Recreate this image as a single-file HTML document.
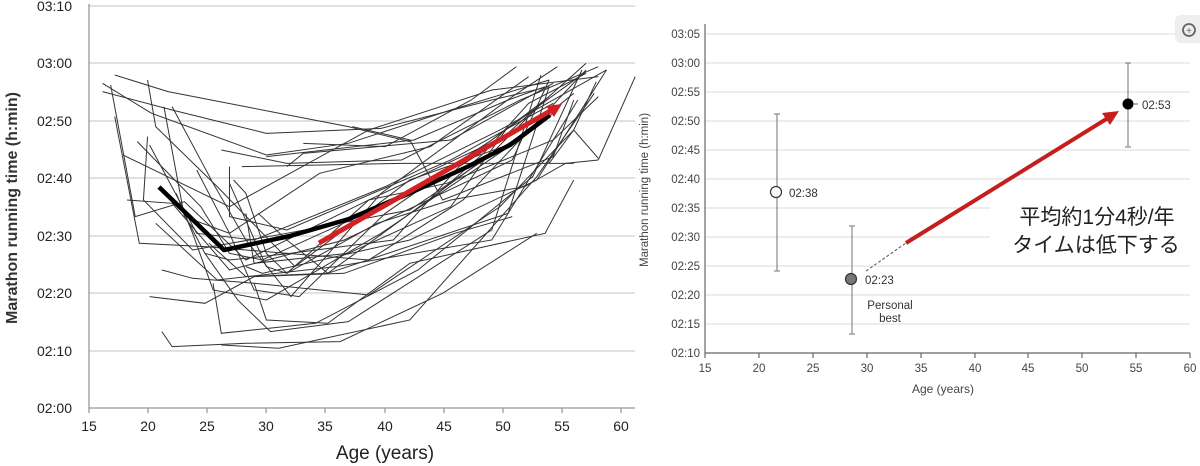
<!DOCTYPE html>
<html><head><meta charset="utf-8"><style>
html,body{margin:0;padding:0;background:#fff;width:1200px;height:466px;overflow:hidden}
svg{display:block}
.t{font-family:"Liberation Sans",Arial,sans-serif}
</style></head><body>
<svg width="1200" height="466" viewBox="0 0 1200 466" xmlns="http://www.w3.org/2000/svg">
<!-- LEFT CHART -->
<g stroke="#cfcfcf" stroke-width="1.3">
<line x1="89" y1="6" x2="635" y2="6"/><line x1="89" y1="63" x2="635" y2="63"/><line x1="89" y1="121" x2="635" y2="121"/>
<line x1="89" y1="178" x2="635" y2="178"/><line x1="89" y1="236" x2="635" y2="236"/><line x1="89" y1="293" x2="635" y2="293"/>
<line x1="89" y1="351" x2="635" y2="351"/>
</g>
<g stroke="#999" stroke-width="1.3">
<line x1="89" y1="4" x2="89" y2="408"/><line x1="89" y1="408" x2="635" y2="408"/>
<line x1="89" y1="408" x2="89" y2="413"/><line x1="148" y1="408" x2="148" y2="413"/><line x1="207" y1="408" x2="207" y2="413"/>
<line x1="266" y1="408" x2="266" y2="413"/><line x1="325" y1="408" x2="325" y2="413"/><line x1="385" y1="408" x2="385" y2="413"/>
<line x1="444" y1="408" x2="444" y2="413"/><line x1="503" y1="408" x2="503" y2="413"/><line x1="562" y1="408" x2="562" y2="413"/>
<line x1="621" y1="408" x2="621" y2="413"/>
</g>
<g class="t" font-size="14" fill="#222" text-anchor="end">
<text x="72" y="11">03:10</text><text x="72" y="68">03:00</text><text x="72" y="126">02:50</text><text x="72" y="183">02:40</text>
<text x="72" y="241">02:30</text><text x="72" y="298">02:20</text><text x="72" y="356">02:10</text><text x="72" y="413">02:00</text>
</g>
<g class="t" font-size="14" fill="#222" text-anchor="middle">
<text x="89" y="431">15</text><text x="148" y="431">20</text><text x="207" y="431">25</text><text x="266" y="431">30</text>
<text x="325" y="431">35</text><text x="385" y="431">40</text><text x="444" y="431">45</text><text x="503" y="431">50</text>
<text x="562" y="431">55</text><text x="621" y="431">60</text>
</g>
<text class="t" x="385" y="459" font-size="19" fill="#222" text-anchor="middle">Age (years)</text>
<text class="t" transform="translate(17,208) rotate(-90)" font-size="16" font-weight="bold" fill="#333" text-anchor="middle">Marathon running time (h:min)</text>
<g transform="scale(0.4098,0.3333)" fill="none" stroke="#333" stroke-width="1" vector-effect="non-scaling-stroke">
<g vector-effect="non-scaling-stroke">
<polyline vector-effect="non-scaling-stroke" points="280,225 410,275 850,380 1000,425"/>
<polyline vector-effect="non-scaling-stroke" points="250,250 370,340 650,465 850,430 1100,330 1340,240"/>
<polyline vector-effect="non-scaling-stroke" points="250,275 420,330 650,400 930,385 1200,300 1340,260"/>
<polyline vector-effect="non-scaling-stroke" points="270,255 330,650 450,605 600,780 900,600 1230,410 1430,190"/>
<polyline vector-effect="non-scaling-stroke" points="360,240 380,380 530,560 720,800 1000,540 1250,430 1400,280"/>
<polyline vector-effect="non-scaling-stroke" points="280,350 340,730 500,740 900,780 1130,600 1430,210"/>
<polyline vector-effect="non-scaling-stroke" points="300,465 560,620 900,390 1200,270 1460,230"/>
<polyline vector-effect="non-scaling-stroke" points="420,320 520,550 600,720 710,890 930,580 1250,290 1360,200"/>
<polyline vector-effect="non-scaling-stroke" points="400,320 450,650 560,700 780,520 1050,440 1290,230"/>
<polyline vector-effect="non-scaling-stroke" points="335,425 490,620 560,760 640,780 1000,580 1200,420 1340,290"/>
<polyline vector-effect="non-scaling-stroke" points="310,600 420,610 560,810 840,720 1250,480 1340,240"/>
<polyline vector-effect="non-scaling-stroke" points="365,435 480,700 620,720 940,560 1220,390 1480,210"/>
<polyline vector-effect="non-scaling-stroke" points="365,890 500,910 620,830 840,820 1110,700 1250,650"/>
<polyline vector-effect="non-scaling-stroke" points="395,810 470,835 620,850 900,885 1220,620 1400,390 1455,245"/>
<polyline vector-effect="non-scaling-stroke" points="395,995 420,1040 600,1030 830,1025 1080,880 1310,700"/>
<polyline vector-effect="non-scaling-stroke" points="540,1035 680,1045 1000,960 1310,530 1450,280"/>
<polyline vector-effect="non-scaling-stroke" points="520,850 540,1000 770,970 1020,810 1300,530 1420,210"/>
<polyline vector-effect="non-scaling-stroke" points="480,510 560,700 620,870 730,890 940,640 1200,420 1430,215"/>
<polyline vector-effect="non-scaling-stroke" points="500,760 580,900 660,995 850,965 1200,690 1320,225"/>
<polyline vector-effect="non-scaling-stroke" points="510,730 600,830 800,820 1240,640 1340,260"/>
<polyline vector-effect="non-scaling-stroke" points="570,540 600,580 650,760 700,820 920,670 1100,600 1280,560 1380,490 1460,480"/>
<polyline vector-effect="non-scaling-stroke" points="440,620 500,760 560,780 710,760 960,720 1120,500 1250,400"/>
<polyline vector-effect="non-scaling-stroke" points="560,500 560,650 700,690 1100,480 1350,310"/>
<polyline vector-effect="non-scaling-stroke" points="630,640 700,720 800,820 990,650 1200,460 1330,300"/>
<polyline vector-effect="non-scaling-stroke" points="700,500 740,460 1100,420 1350,250"/>
<polyline vector-effect="non-scaling-stroke" points="590,500 980,490 1280,490 1400,490"/>
<polyline vector-effect="non-scaling-stroke" points="740,430 940,440 1150,300 1260,200"/>
<polyline vector-effect="non-scaling-stroke" points="600,800 640,820 1000,720 1310,540 1480,210"/>
<polyline vector-effect="non-scaling-stroke" points="560,550 650,800 700,820 900,600 1090,550 1350,420 1460,290"/>
<polyline vector-effect="non-scaling-stroke" points="620,850 650,960 800,970 1000,790 1330,700 1400,540"/>
<polyline vector-effect="non-scaling-stroke" points="650,470 1010,420 1240,300 1330,260"/>
<polyline vector-effect="non-scaling-stroke" points="540,450 700,490 980,480 1270,300 1460,200"/>
<polyline vector-effect="non-scaling-stroke" points="1340,490 1400,390 1460,475"/>
<polyline vector-effect="non-scaling-stroke" points="1460,480 1550,230"/>
<polyline vector-effect="non-scaling-stroke" points="360,410 350,600 470,750 700,700 1000,630 1350,340"/>
<polyline vector-effect="non-scaling-stroke" points="430,580 470,700 520,870 650,900 930,700 1290,400"/>
<polyline vector-effect="non-scaling-stroke" points="380,670 530,840 820,800 1200,720 1410,300"/>
<polyline vector-effect="non-scaling-stroke" points="600,640 620,790 850,760 1100,620 1240,380"/>
<polyline vector-effect="non-scaling-stroke" points="860,380 1000,420 1080,600 1350,470 1400,300"/>
<polyline vector-effect="non-scaling-stroke" points="1050,600 1180,460 1290,310 1430,220"/>
</g>
</g>
<polyline points="159,187 224,250 290,236 349,219 410,193 467,167 510,145 550,115" fill="none" stroke="#000" stroke-width="4.5" stroke-linejoin="round"/>
<line x1="319" y1="243" x2="552" y2="110" stroke="#d42020" stroke-width="5"/>
<polygon points="562,104 546,106 554,117" fill="#d42020"/>
<!-- RIGHT CHART -->
<g stroke="#e2e2e2" stroke-width="1.2">
<line x1="705" y1="34" x2="1190" y2="34"/><line x1="705" y1="63" x2="1190" y2="63"/><line x1="705" y1="92" x2="1190" y2="92"/>
<line x1="705" y1="121" x2="1190" y2="121"/><line x1="705" y1="150" x2="1190" y2="150"/><line x1="705" y1="179" x2="1190" y2="179"/>
<line x1="705" y1="208" x2="990" y2="208"/><line x1="705" y1="237" x2="990" y2="237"/><line x1="705" y1="266" x2="1190" y2="266"/>
<line x1="705" y1="295" x2="1190" y2="295"/><line x1="705" y1="324" x2="1190" y2="324"/>
</g>
<g stroke="#666" stroke-width="1.2">
<line x1="705" y1="24" x2="705" y2="353"/><line x1="705" y1="353" x2="1190" y2="353"/>
<line x1="705" y1="353" x2="705" y2="358"/><line x1="759" y1="353" x2="759" y2="358"/><line x1="813" y1="353" x2="813" y2="358"/>
<line x1="867" y1="353" x2="867" y2="358"/><line x1="921" y1="353" x2="921" y2="358"/><line x1="975" y1="353" x2="975" y2="358"/>
<line x1="1028" y1="353" x2="1028" y2="358"/><line x1="1082" y1="353" x2="1082" y2="358"/><line x1="1136" y1="353" x2="1136" y2="358"/>
<line x1="1190" y1="353" x2="1190" y2="358"/>
</g>
<g class="t" font-size="11.5" fill="#444" text-anchor="end">
<text x="700" y="38">03:05</text><text x="700" y="67">03:00</text><text x="700" y="96">02:55</text><text x="700" y="125">02:50</text>
<text x="700" y="154">02:45</text><text x="700" y="183">02:40</text><text x="700" y="212">02:35</text><text x="700" y="241">02:30</text>
<text x="700" y="270">02:25</text><text x="700" y="299">02:20</text><text x="700" y="328">02:15</text><text x="700" y="357">02:10</text>
</g>
<g class="t" font-size="11.5" fill="#444" text-anchor="middle">
<text x="705" y="372">15</text><text x="759" y="372">20</text><text x="813" y="372">25</text><text x="867" y="372">30</text>
<text x="921" y="372">35</text><text x="975" y="372">40</text><text x="1028" y="372">45</text><text x="1082" y="372">50</text>
<text x="1136" y="372">55</text><text x="1190" y="372">60</text>
</g>
<text class="t" x="943" y="393" font-size="12" fill="#444" text-anchor="middle">Age (years)</text>
<text class="t" transform="translate(648,190) rotate(-90)" font-size="11.5" fill="#444" text-anchor="middle">Marathon running time (h:min)</text>
<g stroke="#888" stroke-width="1.2">
<line x1="777" y1="114" x2="777" y2="271"/><line x1="774" y1="114" x2="780" y2="114"/><line x1="774" y1="271" x2="780" y2="271"/>
<line x1="852" y1="226" x2="852" y2="334"/><line x1="849" y1="226" x2="855" y2="226"/><line x1="849" y1="334" x2="855" y2="334"/>
<line x1="1128" y1="63" x2="1128" y2="147"/><line x1="1125" y1="63" x2="1131" y2="63"/><line x1="1125" y1="147" x2="1131" y2="147"/>
</g>
<circle cx="776" cy="192" r="5.5" fill="#fff" stroke="#333" stroke-width="1.2"/>
<circle cx="851" cy="279" r="5.5" fill="#777" stroke="#333" stroke-width="1.2"/>
<circle cx="1128" cy="104" r="5.5" fill="#000"/>
<line x1="1133" y1="104" x2="1138" y2="104" stroke="#666"/>
<g class="t" font-size="11.5" fill="#333">
<text x="789" y="197">02:38</text><text x="865" y="284">02:23</text><text x="1142" y="109">02:53</text>
<text x="890" y="309" text-anchor="middle">Personal</text><text x="890" y="322" text-anchor="middle">best</text>
</g>
<line x1="866" y1="271" x2="906" y2="243" stroke="#555" stroke-width="1" stroke-dasharray="3,2"/>
<line x1="906" y1="243" x2="1108" y2="118" stroke="#c41e1e" stroke-width="4"/>
<polygon points="1119,111 1102,113 1110,125" fill="#c41e1e"/>
<g font-family="'Liberation Sans','Noto Sans CJK JP',sans-serif" font-size="21" fill="#222" text-anchor="middle">
<text x="1097" y="224">平均約1分4秒/年</text>
<text x="1096" y="252">タイムは低下する</text>
</g>
<rect x="1175" y="15" width="30" height="28" rx="6" fill="#eee"/>
<circle cx="1189" cy="30" r="6" fill="none" stroke="#666" stroke-width="1.8"/>
<text x="1189" y="34" font-size="10" fill="#666" text-anchor="middle" class="t">+</text>
</svg>
</body></html>
